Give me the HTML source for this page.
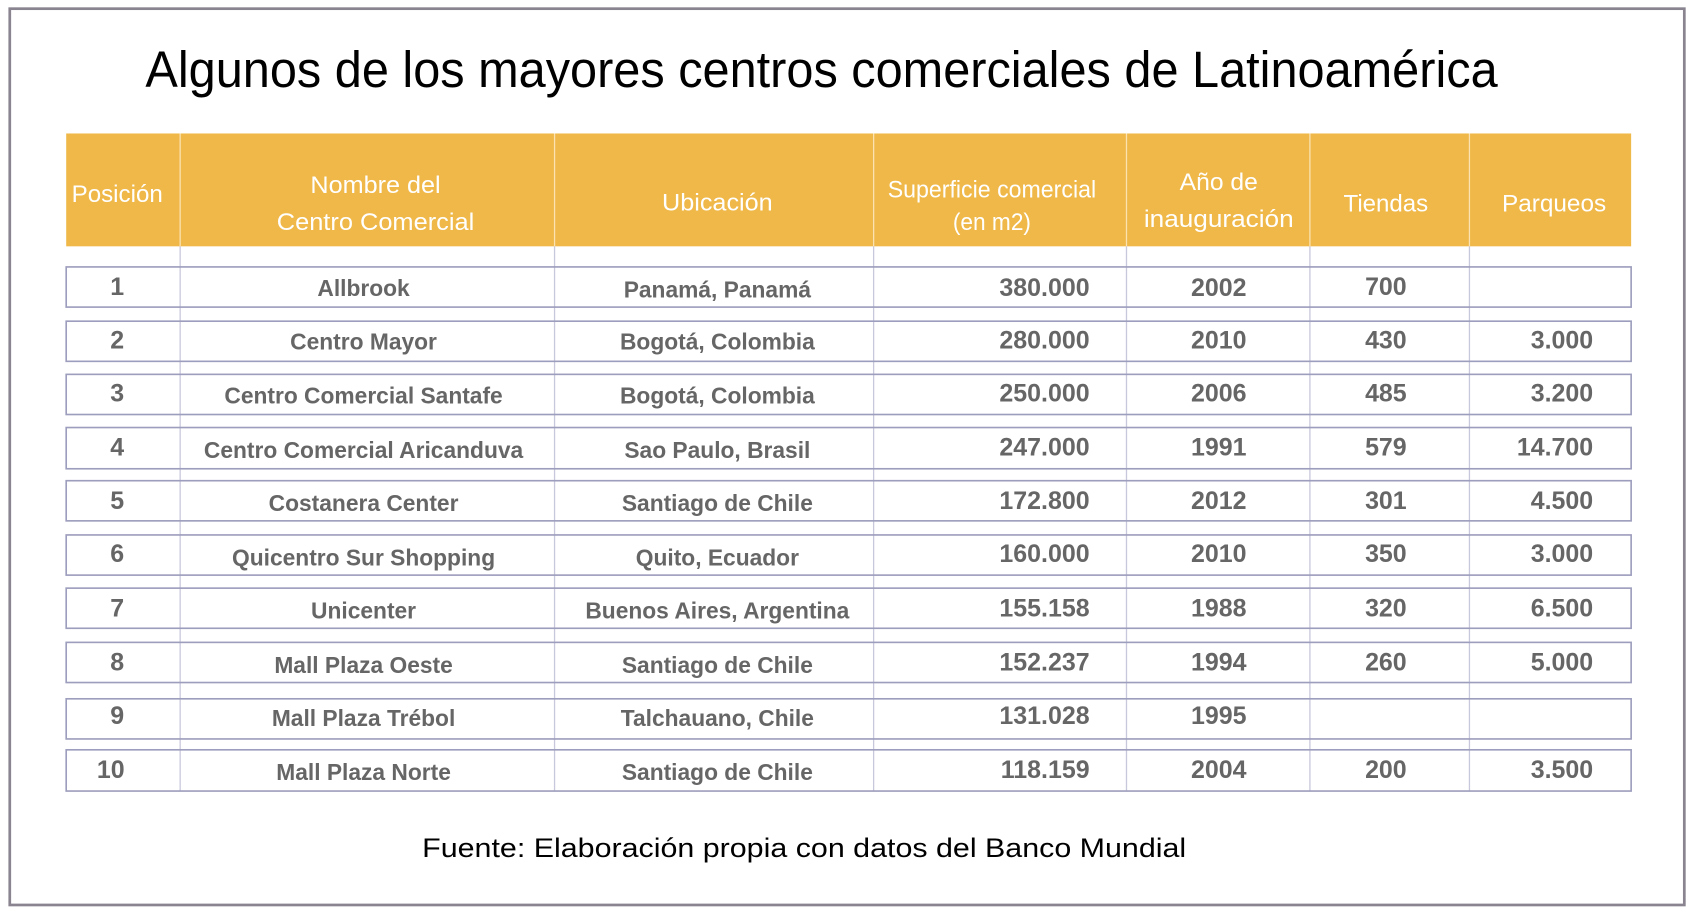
<!DOCTYPE html>
<html><head><meta charset="utf-8"><style>
html,body{margin:0;padding:0;background:#fff;}
svg{display:block;}
text{font-family:"Liberation Sans",sans-serif;}
.h{fill:#fff;font-size:22px;text-anchor:middle;}
.c{fill:#666;font-size:21px;font-weight:bold;text-anchor:middle;}
.n{fill:#666;font-size:23px;font-weight:bold;}
</style></head><body>
<svg width="1693" height="918" viewBox="0 0 1560 846" preserveAspectRatio="none" xmlns="http://www.w3.org/2000/svg">
<rect x="9" y="8" width="1543" height="826" fill="#fff" stroke="#8a8490" stroke-width="2.5"/>
<text x="757" y="80" font-size="47" text-anchor="middle" textLength="1246" lengthAdjust="spacingAndGlyphs" fill="#000">Algunos de los mayores centros comerciales de Latinoamérica</text>
<rect x="61" y="123" width="1442" height="104" fill="#EFB848"/>
<g stroke="#fbe2b0" stroke-width="1.2">
<line x1="166" y1="123" x2="166" y2="227"/><line x1="511" y1="123" x2="511" y2="227"/><line x1="805" y1="123" x2="805" y2="227"/><line x1="1038" y1="123" x2="1038" y2="227"/><line x1="1207" y1="123" x2="1207" y2="227"/><line x1="1354" y1="123" x2="1354" y2="227"/>
</g>
<g stroke="#c8c8dc" stroke-width="1.2">
<line x1="166" y1="227" x2="166" y2="729"/><line x1="511" y1="227" x2="511" y2="729"/><line x1="805" y1="227" x2="805" y2="729"/><line x1="1038" y1="227" x2="1038" y2="729"/><line x1="1207" y1="227" x2="1207" y2="729"/><line x1="1354" y1="227" x2="1354" y2="729"/>
</g>
<g fill="none" stroke="#9d9dbd" stroke-width="1.5">
<rect x="61" y="246" width="1442" height="37"/>
<rect x="61" y="296" width="1442" height="37"/>
<rect x="61" y="345" width="1442" height="37"/>
<rect x="61" y="394" width="1442" height="38"/>
<rect x="61" y="443" width="1442" height="37"/>
<rect x="61" y="493" width="1442" height="37"/>
<rect x="61" y="542" width="1442" height="37"/>
<rect x="61" y="592" width="1442" height="37"/>
<rect x="61" y="644" width="1442" height="37"/>
<rect x="61" y="691" width="1442" height="38"/>
</g>
<text class="h" x="108" y="186" textLength="84" lengthAdjust="spacingAndGlyphs">Posición</text>
<text class="h" x="346" y="178" textLength="120" lengthAdjust="spacingAndGlyphs">Nombre del</text>
<text class="h" x="346" y="212" textLength="182" lengthAdjust="spacingAndGlyphs">Centro Comercial</text>
<text class="h" x="661" y="194" textLength="102" lengthAdjust="spacingAndGlyphs">Ubicación</text>
<text class="h" x="914" y="182" font-size="20" textLength="192" lengthAdjust="spacingAndGlyphs">Superficie comercial</text>
<text class="h" x="914" y="212" font-size="20" textLength="72" lengthAdjust="spacingAndGlyphs">(en m2)</text>
<text class="h" x="1123" y="175" textLength="72" lengthAdjust="spacingAndGlyphs">Año de</text>
<text class="h" x="1123" y="209" textLength="138" lengthAdjust="spacingAndGlyphs">inauguración</text>
<text class="h" x="1277" y="195" textLength="78" lengthAdjust="spacingAndGlyphs">Tiendas</text>
<text class="h" x="1432" y="195" textLength="96" lengthAdjust="spacingAndGlyphs">Parqueos</text>

<g class="rows">
<text class="n" x="108" y="272" text-anchor="middle">1</text><text class="c" x="335" y="273">Allbrook</text><text class="c" x="661" y="274">Panamá, Panamá</text><text class="n" x="1004" y="273" text-anchor="end">380.000</text><text class="n" x="1123" y="273" text-anchor="middle">2002</text><text class="n" x="1277" y="272" text-anchor="middle">700</text>
<text class="n" x="108" y="321" text-anchor="middle">2</text><text class="c" x="335" y="322">Centro Mayor</text><text class="c" x="661" y="322">Bogotá, Colombia</text><text class="n" x="1004" y="321" text-anchor="end">280.000</text><text class="n" x="1123" y="321" text-anchor="middle">2010</text><text class="n" x="1277" y="321" text-anchor="middle">430</text><text class="n" x="1468" y="321" text-anchor="end">3.000</text>
<text class="n" x="108" y="370" text-anchor="middle">3</text><text class="c" x="335" y="372">Centro Comercial Santafe</text><text class="c" x="661" y="372">Bogotá, Colombia</text><text class="n" x="1004" y="370" text-anchor="end">250.000</text><text class="n" x="1123" y="370" text-anchor="middle">2006</text><text class="n" x="1277" y="370" text-anchor="middle">485</text><text class="n" x="1468" y="370" text-anchor="end">3.200</text>
<text class="n" x="108" y="420" text-anchor="middle">4</text><text class="c" x="335" y="422">Centro Comercial Aricanduva</text><text class="c" x="661" y="422">Sao Paulo, Brasil</text><text class="n" x="1004" y="420" text-anchor="end">247.000</text><text class="n" x="1123" y="420" text-anchor="middle">1991</text><text class="n" x="1277" y="420" text-anchor="middle">579</text><text class="n" x="1468" y="420" text-anchor="end">14.700</text>
<text class="n" x="108" y="469" text-anchor="middle">5</text><text class="c" x="335" y="471">Costanera Center</text><text class="c" x="661" y="471">Santiago de Chile</text><text class="n" x="1004" y="469" text-anchor="end">172.800</text><text class="n" x="1123" y="469" text-anchor="middle">2012</text><text class="n" x="1277" y="469" text-anchor="middle">301</text><text class="n" x="1468" y="469" text-anchor="end">4.500</text>
<text class="n" x="108" y="518" text-anchor="middle">6</text><text class="c" x="335" y="521">Quicentro Sur Shopping</text><text class="c" x="661" y="521">Quito, Ecuador</text><text class="n" x="1004" y="518" text-anchor="end">160.000</text><text class="n" x="1123" y="518" text-anchor="middle">2010</text><text class="n" x="1277" y="518" text-anchor="middle">350</text><text class="n" x="1468" y="518" text-anchor="end">3.000</text>
<text class="n" x="108" y="568" text-anchor="middle">7</text><text class="c" x="335" y="570">Unicenter</text><text class="c" x="661" y="570">Buenos Aires, Argentina</text><text class="n" x="1004" y="568" text-anchor="end">155.158</text><text class="n" x="1123" y="568" text-anchor="middle">1988</text><text class="n" x="1277" y="568" text-anchor="middle">320</text><text class="n" x="1468" y="568" text-anchor="end">6.500</text>
<text class="n" x="108" y="618" text-anchor="middle">8</text><text class="c" x="335" y="620">Mall Plaza Oeste</text><text class="c" x="661" y="620">Santiago de Chile</text><text class="n" x="1004" y="618" text-anchor="end">152.237</text><text class="n" x="1123" y="618" text-anchor="middle">1994</text><text class="n" x="1277" y="618" text-anchor="middle">260</text><text class="n" x="1468" y="618" text-anchor="end">5.000</text>
<text class="n" x="108" y="667" text-anchor="middle">9</text><text class="c" x="335" y="669">Mall Plaza Trébol</text><text class="c" x="661" y="669">Talchauano, Chile</text><text class="n" x="1004" y="667" text-anchor="end">131.028</text><text class="n" x="1123" y="667" text-anchor="middle">1995</text>
<text class="n" x="102" y="717" text-anchor="middle">10</text><text class="c" x="335" y="719">Mall Plaza Norte</text><text class="c" x="661" y="719">Santiago de Chile</text><text class="n" x="1004" y="717" text-anchor="end">118.159</text><text class="n" x="1123" y="717" text-anchor="middle">2004</text><text class="n" x="1277" y="717" text-anchor="middle">200</text><text class="n" x="1468" y="717" text-anchor="end">3.500</text>
</g>
<text x="741" y="790" font-size="25" text-anchor="middle" fill="#000" textLength="704" lengthAdjust="spacingAndGlyphs">Fuente: Elaboración propia con datos del Banco Mundial</text>
</svg>
</body></html>
